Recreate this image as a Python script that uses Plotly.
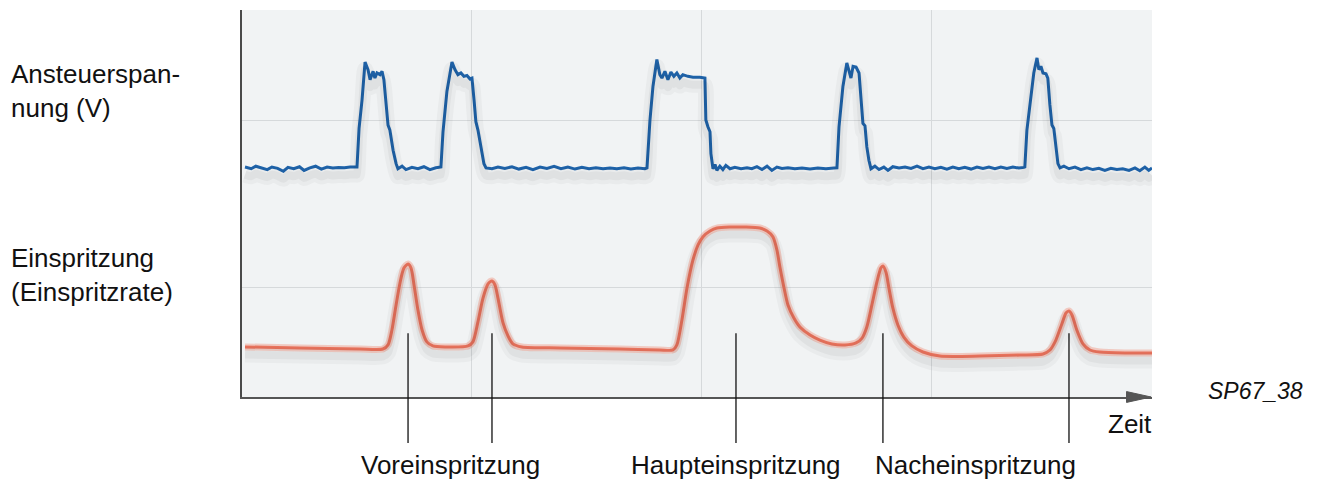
import plotly.graph_objects as go

# ---- data (time and amplitude in screen divisions) ----
volt_t = [0.013, 0.04, 0.06, 0.085, 0.11, 0.13, 0.155, 0.18, 0.2, 0.225, 0.25, 0.27, 0.295, 0.32, 0.345, 0.37, 0.395, 0.42, 0.445, 0.47, 0.497,
          0.5, 0.509, 0.522, 0.535, 0.548, 0.557, 0.57, 0.578, 0.587, 0.6, 0.609, 0.617, 0.626, 0.635, 0.643, 0.657, 0.67, 0.678,
          0.696, 0.713, 0.739, 0.765, 0.791, 0.817, 0.843, 0.861,
          0.865, 0.874, 0.891, 0.913, 0.926, 0.939, 0.952, 0.965, 0.978, 0.991, 1.0, 1.009, 1.017, 1.026, 1.039, 1.052, 1.061,
          1.087, 1.113, 1.143, 1.174, 1.204, 1.235, 1.265, 1.296, 1.326, 1.357, 1.387, 1.417, 1.448, 1.478, 1.509, 1.539, 1.57, 1.6, 1.63, 1.661, 1.691, 1.722, 1.752,
          1.761, 1.774, 1.787, 1.804, 1.817, 1.826, 1.839, 1.852, 1.865, 1.878, 1.891, 1.904, 1.917, 1.939, 1.961, 1.991, 2.013, 2.017, 2.026, 2.035, 2.039, 2.048,
          2.057, 2.065, 2.078, 2.091, 2.104, 2.122, 2.143, 2.17, 2.196, 2.217, 2.239, 2.261, 2.283, 2.304, 2.326, 2.348, 2.374, 2.404, 2.435, 2.47, 2.504, 2.539, 2.574,
          2.587, 2.596, 2.613, 2.63, 2.639, 2.648, 2.657, 2.67, 2.683, 2.691, 2.7, 2.709, 2.717, 2.726, 2.735,
          2.752, 2.77, 2.791, 2.809, 2.83, 2.857, 2.883, 2.909, 2.935, 2.961, 2.987, 3.013, 3.039, 3.065, 3.091, 3.117, 3.143, 3.17, 3.196, 3.222, 3.248, 3.274, 3.3, 3.326, 3.352, 3.378, 3.4,
          3.404, 3.413, 3.43, 3.443, 3.457, 3.465, 3.474, 3.483, 3.496, 3.504, 3.513, 3.522, 3.53, 3.539, 3.548, 3.557,
          3.574, 3.596, 3.622, 3.648, 3.674, 3.7, 3.726, 3.752, 3.778, 3.804, 3.83, 3.857, 3.883, 3.904, 3.926, 3.943, 3.957]
volt_v = [1.72, 1.71, 1.725, 1.715, 1.705, 1.72, 1.712, 1.695, 1.718, 1.71, 1.722, 1.70, 1.715, 1.725, 1.708, 1.72, 1.714, 1.718, 1.716, 1.72, 1.72,
          1.72, 1.95, 2.12, 2.345, 2.3, 2.24, 2.29, 2.25, 2.28, 2.27, 2.29, 2.24, 2.1, 1.97, 1.94, 1.82, 1.74, 1.71,
          1.725, 1.705, 1.718, 1.71, 1.722, 1.705, 1.716, 1.72,
          1.72, 1.93, 2.17, 2.345, 2.3, 2.27, 2.28, 2.26, 2.265, 2.245, 2.25, 2.12, 1.99, 1.94, 1.84, 1.74, 1.715,
          1.71, 1.72, 1.712, 1.722, 1.708, 1.718, 1.704, 1.72, 1.712, 1.724, 1.71, 1.72, 1.708, 1.718, 1.71, 1.716, 1.71, 1.714, 1.71, 1.716, 1.708, 1.714, 1.71,
          1.715, 2.0, 2.2, 2.36, 2.27, 2.25, 2.29, 2.24, 2.285, 2.26, 2.28, 2.25, 2.27, 2.26, 2.255, 2.255, 2.25, 2.0, 1.96, 1.93, 1.8, 1.71,
          1.735, 1.7, 1.725, 1.705, 1.73, 1.71, 1.718, 1.71, 1.716, 1.71, 1.722, 1.705, 1.725, 1.7, 1.72, 1.712, 1.716, 1.71, 1.714, 1.708, 1.714, 1.71, 1.714,
          1.715, 1.96, 2.2, 2.34, 2.29, 2.25, 2.32, 2.315, 2.28, 2.12, 1.98, 1.965, 1.84, 1.76, 1.71,
          1.725, 1.705, 1.72, 1.7, 1.722, 1.715, 1.72, 1.712, 1.725, 1.71, 1.72, 1.71, 1.718, 1.708, 1.72, 1.71, 1.718, 1.708, 1.72, 1.712, 1.72, 1.71, 1.72, 1.712, 1.72, 1.714, 1.718,
          1.72, 1.94, 2.15, 2.28, 2.37, 2.3, 2.32, 2.28, 2.275, 2.25, 2.09, 1.97, 1.95, 1.84, 1.74, 1.715,
          1.725, 1.71, 1.72, 1.705, 1.715, 1.705, 1.712, 1.7, 1.712, 1.705, 1.71, 1.7, 1.715, 1.698, 1.72, 1.7, 1.715]

rate_t = [0.013, 0.252, 0.513, 0.613, 0.635, 0.652, 0.67, 0.687, 0.704, 0.722, 0.735, 0.748, 0.765, 0.783, 0.804, 0.83, 0.883,
          0.983, 1.004, 1.026, 1.048, 1.07, 1.087, 1.1, 1.113, 1.135, 1.157, 1.178, 1.217, 1.383, 1.643, 1.817, 1.874,
          1.891, 1.913, 1.935, 1.961, 1.983, 2.004, 2.035, 2.065, 2.122, 2.187, 2.252, 2.283, 2.309, 2.326, 2.339, 2.357,
          2.374, 2.4, 2.426, 2.47, 2.513, 2.565, 2.622, 2.67, 2.696, 2.717, 2.739, 2.761, 2.778, 2.787, 2.8, 2.813, 2.83,
          2.852, 2.878, 2.913, 2.961, 3.035, 3.209, 3.383, 3.483, 3.513, 3.539, 3.565, 3.583, 3.596, 3.609, 3.63, 3.657,
          3.687, 3.73, 3.839, 3.957]
rate_v = [0.649, 0.643, 0.637, 0.637, 0.661, 0.75, 0.899, 1.03, 1.119, 1.143, 1.119, 1.018, 0.869, 0.75, 0.679, 0.655, 0.649,
          0.655, 0.679, 0.798, 0.94, 1.024, 1.042, 1.018, 0.94, 0.792, 0.714, 0.667, 0.649, 0.643, 0.637, 0.631, 0.631,
          0.661, 0.81, 1.0, 1.167, 1.256, 1.304, 1.339, 1.357, 1.363, 1.363, 1.357, 1.339, 1.304, 1.226, 1.125, 1.0,
          0.899, 0.821, 0.768, 0.72, 0.69, 0.667, 0.661, 0.673, 0.702, 0.768, 0.899, 1.036, 1.119, 1.131, 1.095, 1.0, 0.881,
          0.78, 0.708, 0.655, 0.619, 0.595, 0.595, 0.601, 0.607, 0.631, 0.69, 0.786, 0.851, 0.863, 0.839, 0.75, 0.667,
          0.631, 0.619, 0.613, 0.613]

event_t = [0.722, 1.087, 2.148, 2.787, 3.596]
event_labels = ["Voreinspritzung", "Haupteinspritzung", "Nacheinspritzung"]
event_groups = [[0, 1], [2], [3, 4]]
grid_t = [1, 2, 3]
grid_v = [1, 2]
signal_labels = ["Ansteuerspan-<br>nung (V)", "Einspritzung<br>(Einspritzrate)"]
axis_label = "Zeit"
figure_id = "SP67_38"

# ---- layout constants ----
X_RANGE = [0, 3.957]
Y_RANGE = [0.351, 2.655]
SHADOW = 0.045
FONT = "Liberation Sans, Arial, Helvetica, sans-serif"
FS = 26

fig = go.Figure()

# soft drop shadows (same data on a slightly shifted overlay axis)
for t, v in ((volt_t, volt_v), (rate_t, rate_v)):
    fig.add_trace(go.Scatter(x=t, y=v, mode="lines", yaxis="y2", hoverinfo="skip",
                             line=dict(color="rgba(0,0,0,0.03)", width=16, shape="spline", smoothing=0.6)))
    fig.add_trace(go.Scatter(x=t, y=v, mode="lines", yaxis="y2", hoverinfo="skip",
                             line=dict(color="rgba(0,0,0,0.04)", width=8, shape="spline", smoothing=0.6)))

# injection rate: halo + line
fig.add_trace(go.Scatter(x=rate_t, y=rate_v, mode="lines", hoverinfo="skip",
                         line=dict(color="rgba(240,150,130,0.45)", width=7, shape="spline", smoothing=0.7)))
fig.add_trace(go.Scatter(x=rate_t, y=rate_v, mode="lines",
                         line=dict(color="#e8725c", width=3, shape="spline", smoothing=0.7)))
# control voltage
fig.add_trace(go.Scatter(x=volt_t, y=volt_v, mode="lines",
                         line=dict(color="#1f64ab", width=3)))

shapes = []
# event marker lines
for t in event_t:
    shapes.append(dict(type="line", xref="x", yref="paper", x0=t, x1=t, y0=0.165, y1=-0.119,
                       line=dict(color="#111111", width=1.3)))
# x axis arrow head
shapes.append(dict(type="path", xref="paper", yref="paper",
                   path="M 0.972 0.014 L 0.999 0 L 0.972 -0.014 Z",
                   fillcolor="#555555", line=dict(color="#555555", width=1)))

annotations = []
for lab, grp in zip(event_labels, event_groups):
    xc = sum(event_t[i] for i in grp) / len(grp)
    annotations.append(dict(text=lab, x=xc, xref="x", y=-0.176, yref="paper", showarrow=False,
                            xanchor="center", yanchor="middle", font=dict(size=FS, color="#111111", family=FONT)))
for lab, yp in zip(signal_labels, [0.79, 0.315]):
    annotations.append(dict(text=lab, x=-0.256, xref="paper", y=yp, yref="paper", showarrow=False,
                            xanchor="left", yanchor="middle", align="left",
                            font=dict(size=FS, color="#111111", family=FONT)))
annotations.append(dict(text=axis_label, x=0.976, xref="paper", y=-0.07, yref="paper", showarrow=False,
                        xanchor="center", yanchor="middle", font=dict(size=FS, color="#111111", family=FONT)))
annotations.append(dict(text="<i>" + figure_id + "</i>", x=1.114, xref="paper", y=0.016, yref="paper",
                        showarrow=False, xanchor="center", yanchor="middle",
                        font=dict(size=23, color="#111111", family=FONT)))

fig.update_layout(
    width=1322, height=490,
    margin=dict(l=242, r=170, t=10, b=93),
    paper_bgcolor="white", plot_bgcolor="#f1f3f4",
    showlegend=False,
    shapes=shapes, annotations=annotations,
    xaxis=dict(range=X_RANGE, tickvals=grid_t, showticklabels=False, ticks="",
               showgrid=True, gridcolor="#d6d9db", gridwidth=1, zeroline=False,
               showline=True, linecolor="#555555", linewidth=2),
    yaxis=dict(range=Y_RANGE, tickvals=grid_v, showticklabels=False, ticks="",
               showgrid=True, gridcolor="#d6d9db", gridwidth=1, zeroline=False,
               showline=True, linecolor="#4a4a4a", linewidth=2),
    yaxis2=dict(range=[Y_RANGE[0] + SHADOW, Y_RANGE[1] + SHADOW], overlaying="y", visible=False),
)

fig.write_html("out.html", config={"displayModeBar": False},
               post_script="document.body.style.margin='0';document.body.style.overflow='hidden';")
